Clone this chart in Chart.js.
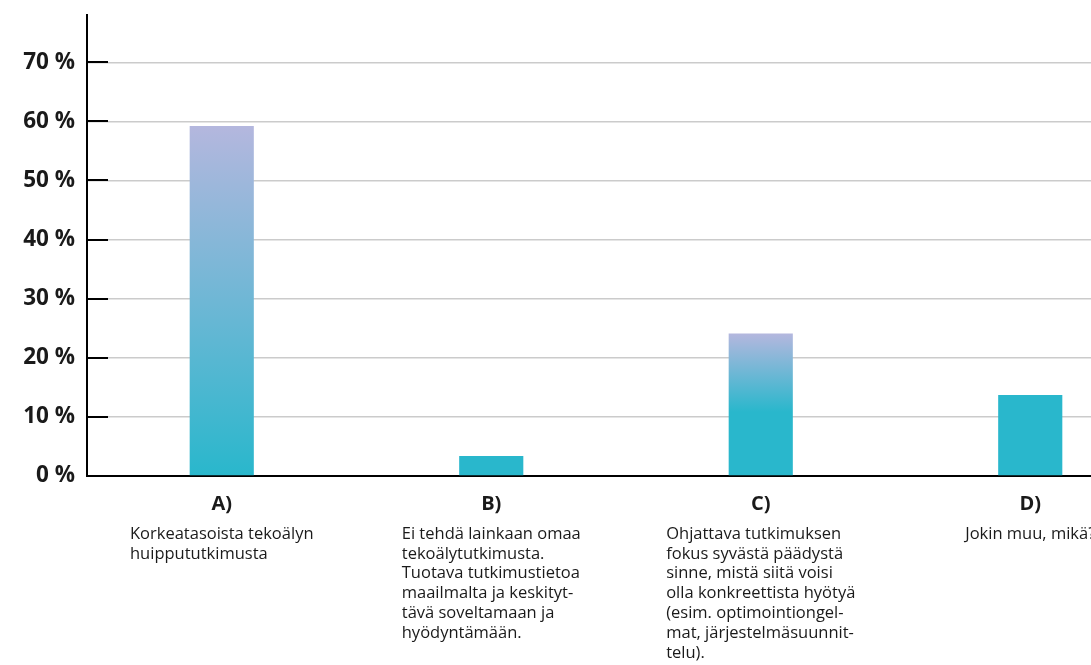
<!DOCTYPE html>
<html>
<head>
<meta charset="utf-8">
<script src="https://cdn.jsdelivr.net/npm/chart.js@4"></script>
<style>
  html, body { margin: 0; padding: 0; background: #fff; overflow: hidden; }
  #wrap { width: 1165px; height: 665px; }
</style>
</head>
<body>
<div id="wrap"><canvas id="bars"></canvas></div>
<script>
// data
var categories = ['A)', 'B)', 'C)', 'D)'];
var shares = [59.2, 3.4, 24.1, 13.7];
var yTicks = [0, 10, 20, 30, 40, 50, 60, 70];
var descriptions = [
    ['Korkeatasoista tekoälyn', 'huippututkimusta'],
    ['Ei tehdä lainkaan omaa', 'tekoälytutkimusta.', 'Tuotava tutkimustietoa', 'maailmalta ja keskityt-', 'tävä soveltamaan ja', 'hyödyntämään.'],
    ['Ohjattava tutkimuksen', 'fokus syvästä päädystä', 'sinne, mistä siitä voisi', 'olla konkreettista hyötyä', '(esim. optimointiongel-', 'mat, järjestelmäsuunnit-', 'telu).'],
    ['Jokin muu, mikä?']
];

var LAVENDER = '#b4b7de';
var TEAL = '#29b7cc';
// how far down each bar the lavender fades into teal
var fadeSpan = [1, 0, 0.55, 0];
var FONT = "'Open Sans', sans-serif";

function barColor(c) {
    var chart = c.chart;
    if (!chart.chartArea || c.type !== 'data') return TEAL;
    var span = fadeSpan[c.dataIndex];
    if (!span) return TEAL;
    var y = chart.scales.y;
    var top = y.getPixelForValue(c.raw);
    var bottom = y.getPixelForValue(0);
    var g = chart.ctx.createLinearGradient(0, top, 0, bottom);
    g.addColorStop(0, LAVENDER);
    g.addColorStop(span, TEAL);
    g.addColorStop(1, TEAL);
    return g;
}

// short black tick marks drawn inside the plot + the descriptions under the letters
var extras = {
    id: 'extras',
    afterDatasetsDraw: function (chart) {
        var ctx = chart.ctx;
        var area = chart.chartArea;
        var y = chart.scales.y;
        var x = chart.scales.x;
        ctx.save();
        ctx.strokeStyle = '#000';
        ctx.lineWidth = 2;
        yTicks.forEach(function (v) {
            if (v === 0) return;
            var py = Math.round(y.getPixelForValue(v));
            ctx.beginPath();
            ctx.moveTo(area.left, py);
            ctx.lineTo(area.left + 21, py);
            ctx.stroke();
        });
        ctx.fillStyle = '#1a1a1a';
        ctx.font = '16.5px ' + FONT;
        ctx.textAlign = 'left';
        ctx.textBaseline = 'middle';
        descriptions.forEach(function (lines, i) {
            var cx = x.getPixelForValue(i);
            var w = 0;
            lines.forEach(function (l) { w = Math.max(w, ctx.measureText(l).width); });
            lines.forEach(function (l, j) {
                ctx.fillText(l, cx - w / 2, area.bottom + 58 + j * 19.8);
            });
        });
        ctx.restore();
    }
};

var ctx = document.getElementById('bars').getContext('2d');
var chart = new Chart(ctx, {
    type: 'bar',
    data: {
        labels: categories,
        datasets: [{
            data: shares,
            backgroundColor: barColor,
            borderWidth: 0,
            categoryPercentage: 1,
            barPercentage: 0.238
        }]
    },
    options: {
        responsive: true,
        maintainAspectRatio: false,
        animation: false,
        layout: { padding: { top: 15, left: 0, right: 0, bottom: 0 } },
        plugins: {
            legend: { display: false },
            tooltip: { enabled: false }
        },
        scales: {
            x: {
                offset: true,
                grid: { display: false, drawTicks: false },
                border: { display: true, color: '#000', width: 2 },
                ticks: {
                    color: '#1a1a1a',
                    padding: 16,
                    font: { family: FONT, size: 20, weight: 'bold' }
                },
                afterFit: function (s) { s.height = 189; s.paddingLeft = 0; s.paddingRight = 0; }
            },
            y: {
                min: 0,
                max: 78,
                afterBuildTicks: function (s) {
                    s.ticks = yTicks.map(function (v) { return { value: v }; });
                },
                grid: {
                    drawTicks: false,
                    color: function (c) { return c.tick && c.tick.value === 0 ? 'rgba(0,0,0,0)' : '#cbcbcb'; },
                    lineWidth: 1.5
                },
                border: { display: true, color: '#000', width: 2 },
                ticks: {
                    color: '#1a1a1a',
                    padding: 12,
                    font: { family: FONT, size: 22.5, weight: 'bold' },
                    callback: function (v) { return v + ' %'; }
                },
                afterFit: function (s) { s.width = 87; s.paddingTop = 0; s.paddingBottom = 0; }
            }
        }
    },
    plugins: [extras]
});
</script>
</body>
</html>
